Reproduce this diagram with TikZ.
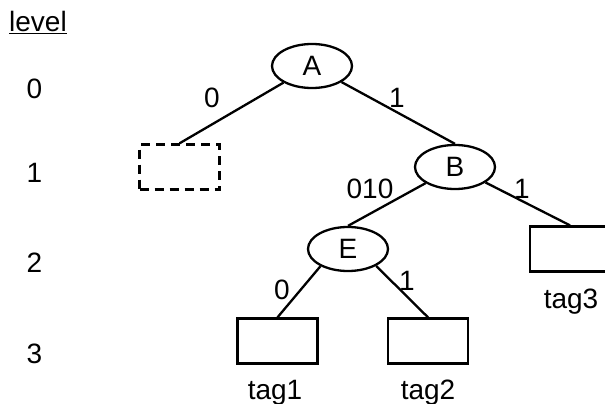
\documentclass[tikz,border=0pt]{standalone}
\usepackage{fontspec}
\setmainfont{Liberation Sans}
\usetikzlibrary{shapes.geometric}
\begin{document}
\begin{tikzpicture}[x=1pt,y=-1pt,
  every node/.style={font=\fontsize{28}{32}\selectfont},
  ell/.style={draw, ellipse, line width=2.3pt, minimum width=80pt, minimum height=44pt, inner sep=0pt},
  leaf/.style={draw, rectangle, line width=2.3pt, minimum width=80pt, minimum height=45pt, inner sep=0pt},
  ghost/.style={leaf, dash pattern=on 9pt off 6pt},
  lbl/.style={anchor=base, inner sep=0pt},
  edge/.style={line width=2.3pt}]
\useasboundingbox (0,0) rectangle (605,404);
% level column
\node[lbl] (lv) at (38,32) {\underline{level}};
\node[lbl] (l0) at (34.5,98) {0};
\node[lbl] (l1) at (34.5,182) {1};
\node[lbl] (l2) at (34.5,272) {2};
\node[lbl] (l3) at (34.5,363) {3};
% tree nodes
\node[ell] (A) at (312,66) {A};
\node[ell] (B) at (455,167) {B};
\node[ell] (E) at (348,249) {E};
\node[ghost] (D) at (179.5,167) {};
\node[leaf] (T1) at (277.5,341) {};
\node[leaf] (T2) at (428,341) {};
\node[leaf] (T3) at (570,249) {};
% connectors
\draw[edge] (A) -- (D.north);
\draw[edge] (A) -- (B.north);
\draw[edge] (B) -- (E.north);
\draw[edge] (B) -- (T3.north);
\draw[edge] (E.212) -- (T1.north);
\draw[edge] (E.-31) -- (T2.north);
% tag labels
\node[lbl] (t1) at (275,399) {tag1};
\node[lbl] (t2) at (428,399) {tag2};
\node[lbl] (t3) at (571,308) {tag3};
% edge labels
\node[lbl] (e1) at (212,107) {0};
\node[lbl] (e2) at (397,107) {1};
\node[lbl] (e3) at (370,198) {010};
\node[lbl] (e4) at (522,198) {1};
\node[lbl] (e5) at (282,299) {0};
\node[lbl] (e6) at (407,290) {1};
\end{tikzpicture}
\end{document}
